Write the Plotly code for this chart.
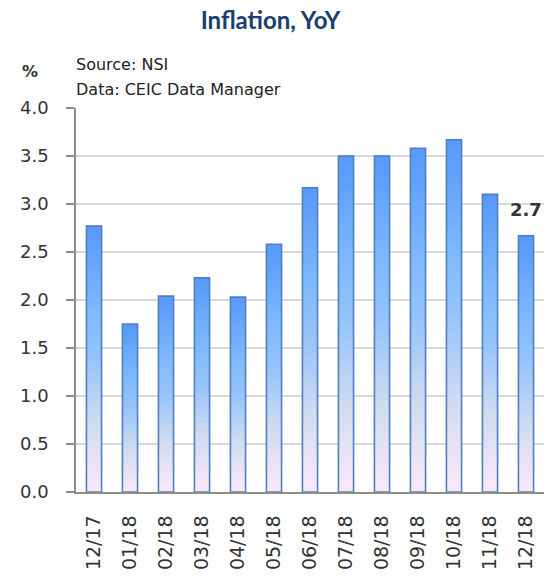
import plotly.graph_objects as go

categories = ["12/17", "01/18", "02/18", "03/18", "04/18", "05/18", "06/18",
              "07/18", "08/18", "09/18", "10/18", "11/18", "12/18"]
values = [2.77, 1.75, 2.04, 2.23, 2.03, 2.58, 3.17, 3.50, 3.50, 3.58, 3.67, 3.10, 2.67]
last_label = "2.7"
y_ticks = [0.0, 0.5, 1.0, 1.5, 2.0, 2.5, 3.0, 3.5, 4.0]

# gradient stops (fraction of bar height from the bottom -> colour)
stops = [(0.0, (251, 234, 247)), (0.25, (210, 220, 240)), (0.5, (150, 196, 250)),
         (0.65, (130, 188, 255)), (1.0, (88, 152, 250))]

def color_at(f):
    for (f0, c0), (f1, c1) in zip(stops[:-1], stops[1:]):
        if f <= f1:
            t = (f - f0) / (f1 - f0) if f1 > f0 else 0
            c = [round(a + (b - a) * t) for a, b in zip(c0, c1)]
            return "rgb(%d,%d,%d)" % tuple(c)
    return "rgb(%d,%d,%d)" % stops[-1][1]

K = 40
BW = 0.42
fig = go.Figure()
for k in range(K):
    f = (k + 0.5) / K
    span = min(3, K - k)
    fig.add_trace(go.Bar(
        x=categories,
        y=[v * span / K for v in values],
        base=[v * k / K for v in values],
        width=BW,
        marker=dict(color=color_at(f), line=dict(width=0)),
        hoverinfo="skip", showlegend=False,
    ))
fig.add_trace(go.Bar(
    x=categories, y=values, width=BW,
    marker=dict(color="rgba(0,0,0,0)", line=dict(color="#4f7fc0", width=1.6)),
    showlegend=False,
))

font_family = "DejaVu Sans"
fig.update_layout(
    width=560, height=578,
    barmode="overlay",
    plot_bgcolor="white", paper_bgcolor="white",
    margin=dict(l=76, r=16, t=108, b=86),
    font=dict(family=font_family, color="#333333"),
    title=dict(text="<b>Inflation, YoY</b>", x=0.483, xanchor="center", y=0.965, yanchor="middle",
               font=dict(family="Lato", size=24, color="#17406d")),
    xaxis=dict(type="category", range=[-0.5, 12.5], tickangle=-90, automargin=False,
               tickfont=dict(size=19, color="#333333"), showgrid=False,
               showline=True, linecolor="#8c8c8c", linewidth=1.5, ticks="",
               ticklabelstandoff=14),
    yaxis=dict(range=[0, 4.0], tickvals=y_ticks, ticktext=["%.1f" % t for t in y_ticks],
               automargin=False,
               tickfont=dict(size=18, color="#333333"), showgrid=True,
               gridcolor="#d9d9d9", gridwidth=1.5, zeroline=False,
               showline=True, linecolor="#8c8c8c", linewidth=1.5,
               ticks="outside", ticklen=8, tickcolor="#8c8c8c", tickwidth=1.5,
               ticklabelstandoff=14),
)
fig.add_annotation(x=categories[-1], y=values[-1], text="<b>%s</b>" % last_label,
                   showarrow=False, yshift=26, font=dict(size=18, color="#333333"))
fig.add_annotation(xref="paper", yref="paper", x=-0.098, y=1.094, xanchor="center", yanchor="middle",
                   text="<b>%</b>", showarrow=False, font=dict(size=16, color="#333333"))
fig.add_annotation(xref="paper", yref="paper", x=-0.004, y=1.112, xanchor="left", yanchor="middle",
                   text="Source: NSI", showarrow=False, font=dict(size=16, color="#222222"))
fig.add_annotation(xref="paper", yref="paper", x=-0.004, y=1.047, xanchor="left", yanchor="middle",
                   text="Data: CEIC Data Manager", showarrow=False, font=dict(size=16, color="#222222"))

fig.write_html("out.html", config={"displayModeBar": False},
               post_script="document.body.style.margin='0';")
